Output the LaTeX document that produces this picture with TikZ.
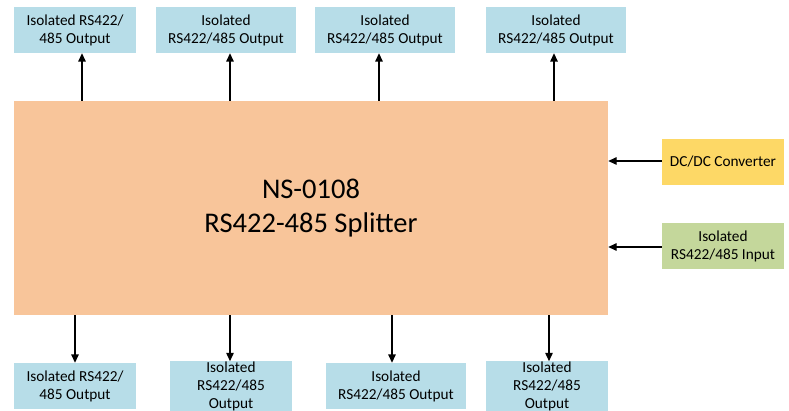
\documentclass[tikz,border=0pt]{standalone}
\usepackage{fontspec}
\setmainfont{Carlito}
\usetikzlibrary{arrows.meta}
\definecolor{mainc}{HTML}{F8C59A}
\definecolor{bluec}{HTML}{B7DDE8}
\definecolor{yelc}{HTML}{FDD866}
\definecolor{grnc}{HTML}{C4D79B}
\tikzset{
  outbox/.style={fill=bluec, draw=none, minimum height=46pt, inner sep=0pt, align=center, font=\fontsize{15.3}{18}\selectfont},
  sidebox/.style={draw=none, minimum width=122pt, minimum height=46pt, inner sep=0pt, align=center, font=\fontsize{15.3}{18}\selectfont},
  conn/.style={-{Triangle[length=8.5pt,width=7.5pt]}, line width=1.4pt, black}
}
\begin{document}
\begin{tikzpicture}[x=1pt,y=-1pt]
\useasboundingbox (0,0) rectangle (789,411);
% main box
\node[fill=mainc, minimum width=594pt, minimum height=214pt, inner sep=0pt, align=center, font=\fontsize{28.5}{34}\selectfont] (main) at (311,208) {NS-0108\\RS422-485 Splitter};
% top outputs
\node[outbox, minimum width=122pt] (t1) at (75,30) {Isolated RS422/\\485 Output};
\node[outbox, minimum width=140pt] (t2) at (226,30) {Isolated\\RS422/485 Output};
\node[outbox, minimum width=140pt] (t3) at (385,30) {Isolated\\RS422/485 Output};
\node[outbox, minimum width=140pt] (t4) at (556,30) {Isolated\\RS422/485 Output};
% bottom outputs
\node[outbox, minimum width=122pt] (b1) at (75,386) {Isolated RS422/\\485 Output};
\node[outbox, minimum width=122pt] (b2) at (231,386) {Isolated\\RS422/485\\Output};
\node[outbox, minimum width=140pt] (b3) at (396,386) {Isolated\\RS422/485 Output};
\node[outbox, minimum width=122pt] (b4) at (547,386) {Isolated\\RS422/485\\Output};
% side boxes
\node[sidebox, fill=yelc] (dc) at (723,162) {DC/DC Converter};
\node[sidebox, fill=grnc] (in) at (723,246.5) {Isolated\\RS422/485 Input};
% connectors
\draw[conn] (main.north -| 82,0) -- (t1.south -| 82,0);
\draw[conn] (main.north -| 230,0) -- (t2.south -| 230,0);
\draw[conn] (main.north -| 379,0) -- (t3.south -| 379,0);
\draw[conn] (main.north -| 554,0) -- (t4.south -| 554,0);
\draw[conn] (main.south -| 75,0) -- (b1.north -| 75,0);
\draw[conn] (main.south -| 230,0) -- (b2.north -| 230,0);
\draw[conn] (main.south -| 392,0) -- (b3.north -| 392,0);
\draw[conn] (main.south -| 549,0) -- (b4.north -| 549,0);
\draw[conn] (dc.west |- 0,161) -- (main.east |- 0,161);
\draw[conn] (in.west |- 0,247) -- (main.east |- 0,247);
\end{tikzpicture}
\end{document}
